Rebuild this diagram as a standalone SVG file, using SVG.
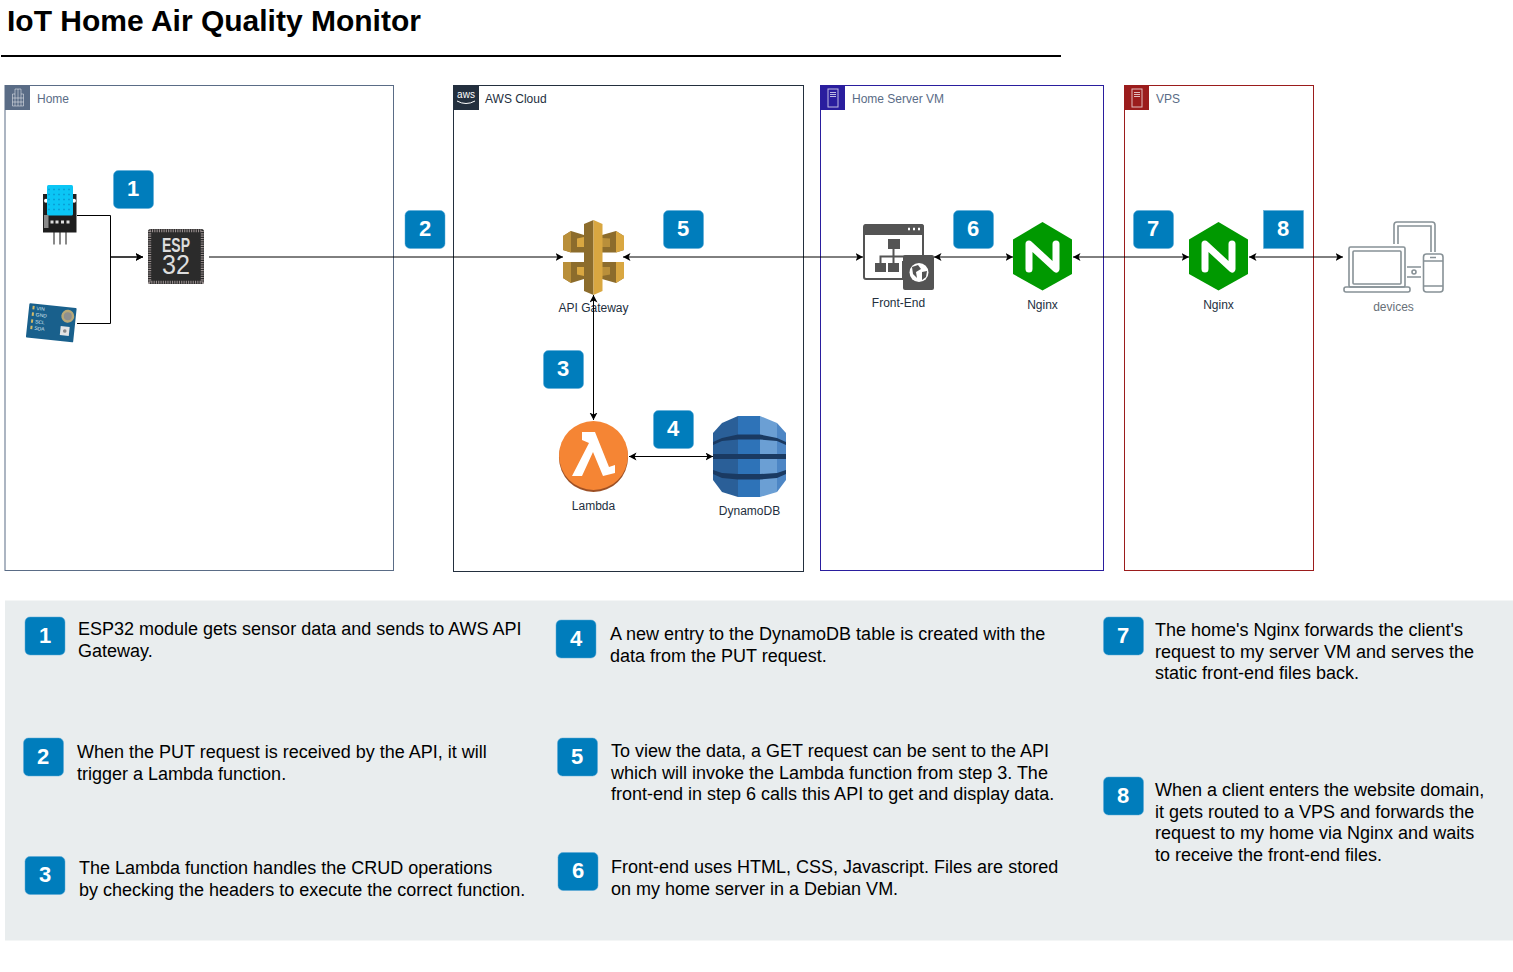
<svg xmlns="http://www.w3.org/2000/svg" width="1513" height="972" viewBox="0 0 1513 972">
<style>
text{font-family:"Liberation Sans",Arial,sans-serif}
.title{font-size:30px;font-weight:bold;fill:#000}
.lbl{font-size:12px;fill:#232F3E;text-anchor:middle}
.clbl{font-size:12px;fill:#5A6C86}
.badge{fill:#007DBC;stroke:#5AA9D6;stroke-width:.5}
.bnum{font-size:22px;font-weight:bold;fill:#fff;text-anchor:middle}
.desc{font-size:18px;fill:#000}
.cont{fill:none;stroke-width:1}
.conn{fill:none;stroke:#000;stroke-width:1}
.both{marker-start:url(#ah);marker-end:url(#ah)}
.end{marker-end:url(#ah)}
.srv{fill:none;stroke:#fff;stroke-opacity:.7;stroke-width:1}
.dev{fill:none;stroke:#879196;stroke-width:1.6}
.gl{fill:#D9A741}
.gm{fill:#B98F3A}
.gd{fill:#8C6C2C}
.band{fill:#1A3A62}
.uvt{font-size:5px;fill:#DDE8EE}
</style>
<defs>
<marker id="ah" markerUnits="userSpaceOnUse" markerWidth="10" markerHeight="10" refX="7.500" refY="4" orient="auto-start-reverse"><path d="M0,0 L7.500,4 L0,8 L1.900,4 Z" fill="#000"/></marker>
<g id="badgeR"><rect width="40" height="38" rx="5" class="badge"/></g>
<g id="ngx">
<path d="M29.500,0 L59,17.500 V52 L29.500,68.500 L0,52 V17.500 Z" fill="#009900"/>
<path d="M16,47 V22 L43,47 V22" fill="none" stroke="#fff" stroke-width="7" stroke-linecap="round" stroke-linejoin="round"/>
</g>
<g id="srvicon">
<rect x="8" y="4" width="10" height="18" class="srv"/>
<path d="M10,7.500 H16 M10,9.500 H16 M10,11.500 H16" class="srv"/>
</g>
</defs>
<rect width="1513" height="972" fill="#fff"/>
<text x="7" y="31" class="title">IoT Home Air Quality Monitor</text>
<path d="M1,56 H1061" stroke="#000" stroke-width="2" fill="none"/>

<rect id="panel" x="5" y="600.500" width="1508" height="340" fill="#E9EDEE"/>

<g id="container-home">
<rect x="5" y="85.500" width="388.500" height="485" class="cont" stroke="#5A6C86"/>
<rect x="5" y="85" width="25" height="25" fill="#5A6C86"/>
<path d="M12.500,106 H23.500 V94 H21 V89 H15 V94 H12.500 Z M15,94 V106 M21,94 V106 M12.500,98 H23.500 M12.500,102 H23.500 M18,89 V106" fill="none" stroke="#fff" stroke-opacity=".6" stroke-width=".8"/>
<text x="37" y="103" class="clbl">Home</text>
</g>
<g id="container-aws">
<rect x="453.500" y="85.500" width="350" height="486" class="cont" stroke="#232F3E"/>
<rect x="453" y="85" width="26" height="25" fill="#232F3E"/>
<text x="466" y="98" font-size="10" fill="#fff" text-anchor="middle">aws</text>
<path d="M457,101 Q466,106 475,101" fill="none" stroke="#fff" stroke-width="1"/>
<text x="485" y="103" font-size="12" fill="#232F3E">AWS Cloud</text>
</g>
<g id="container-homeserver">
<rect x="820.500" y="85.500" width="283" height="485" class="cont" stroke="#2A1E9E"/>
<rect x="820" y="85" width="25" height="25" fill="#2A1E9E"/>
<use href="#srvicon" x="820" y="85"/>
<text x="852" y="103" class="clbl">Home Server VM</text>
</g>
<g id="container-vps">
<rect x="1124.500" y="85.500" width="189" height="485" class="cont" stroke="#9B1C1C"/>
<rect x="1124" y="85" width="25" height="25" fill="#9B1C1C"/>
<use href="#srvicon" x="1124" y="85"/>
<text x="1156" y="103" class="clbl">VPS</text>
</g>

<g id="sensor-dht">
<path d="M54,232 V244.500 M60,232 V244.500 M66,232 V244.500" stroke="#8A8A8A" stroke-width="2" fill="none"/>
<rect x="43" y="194" width="33.500" height="38.500" fill="#1E1E1E"/>
<circle cx="46" cy="200.700" r="2" fill="#fff"/><circle cx="74" cy="200.700" r="2" fill="#fff"/>
<rect x="47" y="185" width="26" height="30.500" rx="1.500" fill="#0BC6F5"/>
<path d="M47,189.500 H73 M47,194.500 H73 M47,199.500 H73 M47,204.500 H73 M47,209.500 H73" stroke="#0A9FD6" stroke-width="1.500" stroke-dasharray="2 3" stroke-dashoffset="-1" fill="none"/>
<path d="M50.500,222 h3 M55.500,222 h3 M61,222 h3 M66.500,222 h3" stroke="#ddd" stroke-width="3" fill="none"/>
<rect x="44" y="215" width="4.500" height="13" fill="#8A8A8A"/>
</g>
<g id="sensor-uv" transform="rotate(6 51 323)">
<rect x="27.500" y="305.500" width="47.500" height="34.500" rx="1" fill="#19608C"/>
<circle cx="67" cy="314.500" r="6.500" fill="#B8A878"/><circle cx="67" cy="314.500" r="4" fill="#8E9090"/>
<rect x="61" y="325" width="9" height="9" fill="#E4E4E4"/><circle cx="65.500" cy="329.500" r="1.800" fill="#8A8A8A"/>
<path d="M31,309.500 h2 M31,316 h2 M31,323 h2 M31,329.500 h2" stroke="#D4BA68" stroke-width="3.500" fill="none"/>
<text x="35" y="311.500" class="uvt">VIN</text>
<text x="35" y="318" class="uvt">GND</text>
<text x="35" y="325" class="uvt">SCL</text>
<text x="35" y="331.500" class="uvt">SDA</text>
</g>
<g id="esp32">
<rect x="148" y="229" width="56" height="55" rx="2.500" fill="#2B2B2B"/>
<rect x="149.700" y="230.700" width="52.600" height="51.600" fill="none" stroke="#9A9090" stroke-width="3" stroke-dasharray="1.100 1.200"/>
<rect x="153" y="234" width="46" height="45" fill="#2B2B2B"/>
<text x="176" y="252" font-size="21" font-weight="bold" fill="#DDD" text-anchor="middle" textLength="28" lengthAdjust="spacingAndGlyphs">ESP</text>
<text x="176" y="274" font-size="28" fill="#DDD" text-anchor="middle" textLength="28" lengthAdjust="spacingAndGlyphs">32</text>
</g>
<g id="api-gateway">
<path d="M563,236 L571,231 L584,235 V252.500 H571 L563,250 Z" class="gd"/>
<path d="M563,236 L571,231 V252.500 L563,250 Z" class="gm"/>
<path d="M577,238.500 L584,237 V247 H577 Z" class="gl"/>
<path d="M563,262 H584 V279 L571,283 L563,278 Z" class="gd"/>
<path d="M563,262 H571 V283 L563,278 Z" class="gm"/>
<path d="M577,267 H584 V276 L577,274.500 Z" class="gl"/>
<path d="M624,236 L616,231 L602,235 V252.500 H616 L624,250 Z" class="gd"/>
<path d="M624,236 L616,231 V252.500 L624,250 Z" class="gl"/>
<path d="M602,238 L610,238.500 V247 H602 Z" class="gm"/>
<path d="M624,262 H602 V279 L616,283 L624,278 Z" class="gd"/>
<path d="M624,262 H616 V283 L624,278 Z" class="gl"/>
<path d="M602,267 H610 V274.500 L602,276 Z" class="gm"/>
<path d="M593.500,220 L584,224 V291 L593.500,295 Z" class="gd"/>
<path d="M593.500,220 L602.500,224 V291 L593.500,295 Z" class="gl"/>
<text x="593.500" y="312" class="lbl">API Gateway</text>
</g>
<g id="lambda">
<circle cx="593.500" cy="457.500" r="34.500" fill="#9D5025"/>
<circle cx="593.500" cy="455.500" r="34.500" fill="#F58534"/>
<path d="M582,432 H595 L609,467 L615,465 V473 L603,476 L593,452 L582,476 H572 L589,443 L582,440 Z" fill="#fff"/>
<text x="593.500" y="510" class="lbl">Lambda</text>
</g>
<g id="dynamodb">
<path d="M713,433 L722,423 L738,416 V497 L722,492 L713,480 Z" fill="#2A5F98"/>
<path d="M738,416 H760 V497 H738 Z" fill="#2E73B8"/>
<path d="M760,416 L777,423 V492 L760,497 Z" fill="#6B9FD4"/>
<path d="M777,423 L786,433 V480 L777,492 Z" fill="#4D86C5"/>
<path class="band" d="M713,442 L722,438 L738,434.500 H760 L777,438 L786,442 V445 L777,441 L760,439.500 H738 L722,441 L713,445 Z"/>
<path class="band" d="M713,454 H786 V459 H713 Z"/>
<path class="band" d="M713,470 L722,473 L738,474 H760 L777,473 L786,470 V474 L777,478 L760,479.500 H738 L722,478 L713,474 Z"/>
<text x="749.500" y="515" class="lbl">DynamoDB</text>
</g>
<g id="frontend">
<path d="M866,225 H921 Q923,225 923,227 V262 H903 V279 H866 Q864,279 864,277 V227 Q864,225 866,225 Z" fill="#fff" stroke="#545454" stroke-width="2"/>
<path d="M864,227 Q864,224 866,224 H921 Q924,224 924,227 V235 H864 Z" fill="#545454"/>
<path d="M908,229 h2 M913,229 h2 M918,229 h2" stroke="#fff" stroke-width="2.500" fill="none"/>
<rect x="888" y="239" width="12" height="10" fill="#545454"/>
<rect x="875" y="263" width="11" height="9" fill="#545454"/>
<rect x="888" y="263" width="11" height="9" fill="#545454"/>
<path d="M893.500,249 V263 M880.500,263 V256.500 H905" stroke="#545454" stroke-width="2" fill="none"/>
<rect x="903" y="255" width="31" height="35" rx="2" fill="#545454"/>
<circle cx="919" cy="272.500" r="9.500" fill="#fff"/>
<path d="M912,267 L918,265 L921,269 L916,272 L917,278 L913,274 Z M922,272 L927,271 L926,277 L922,280 Z" fill="#545454"/>
<text x="898.500" y="307" class="lbl">Front-End</text>
</g>
<g id="nginx-home">
<use href="#ngx" x="1013" y="222"/>
<text x="1042.500" y="309" class="lbl">Nginx</text>
</g>
<g id="nginx-vps">
<use href="#ngx" x="1189" y="222"/>
<text x="1218.500" y="309" class="lbl">Nginx</text>
</g>
<g id="devices">
<path d="M1394,244 V225 Q1394,222 1397,222 H1432 Q1435,222 1435,225 V252 M1398,244 V226 H1431 V252" class="dev"/>
<rect x="1349" y="247" width="56" height="40" rx="1.500" class="dev"/>
<rect x="1353" y="251" width="48" height="33" rx="1" class="dev"/>
<rect x="1344" y="287" width="66" height="5" rx="2" class="dev"/>
<path d="M1407,267 H1421 M1407,277 H1421" class="dev"/>
<circle cx="1414" cy="272" r="2" class="dev"/>
<rect x="1423.500" y="254" width="19.500" height="38" rx="3" class="dev"/>
<path d="M1424,261 H1443 M1424,286 H1443 M1430,257.500 h6" class="dev"/>
<text x="1393.500" y="311" class="lbl" style="fill:#687078">devices</text>
</g>

<g id="connectors">
<path d="M77,215.500 H110.500 V257 H143" class="conn end"/>
<path d="M77,323.500 H110.500 V257 H143" class="conn end"/>
<path d="M209,257 H563" class="conn end"/>
<path d="M623,257 H863" class="conn both"/>
<path d="M934,257 H1013" class="conn both"/>
<path d="M1073,257 H1189" class="conn both"/>
<path d="M1249,257 H1343" class="conn both"/>
<path d="M593.500,295 V420" class="conn both"/>
<path d="M629,456.500 H713" class="conn both"/>
</g>

<g id="badge-top-1"><use href="#badgeR" x="113.500" y="170.500"/><text x="133" y="196" class="bnum">1</text></g>
<g id="badge-top-2"><use href="#badgeR" x="405" y="210.500"/><text x="425" y="236" class="bnum">2</text></g>
<g id="badge-top-5"><use href="#badgeR" x="663.500" y="210.500"/><text x="683" y="236" class="bnum">5</text></g>
<g id="badge-top-3"><use href="#badgeR" x="543.500" y="350.500"/><text x="563" y="376" class="bnum">3</text></g>
<g id="badge-top-4"><use href="#badgeR" x="653.500" y="410.500"/><text x="673" y="436" class="bnum">4</text></g>
<g id="badge-top-6"><use href="#badgeR" x="953.500" y="210.500"/><text x="973" y="236" class="bnum">6</text></g>
<g id="badge-top-7"><use href="#badgeR" x="1133.500" y="210.500"/><text x="1153" y="236" class="bnum">7</text></g>
<g id="badge-top-8"><rect x="1263.500" y="210.500" width="40" height="38" class="badge"/><text x="1283" y="236" class="bnum">8</text></g>

<g id="step-1"><use href="#badgeR" x="25" y="617"/><text x="45" y="642.500" class="bnum">1</text>
<text class="desc"><tspan x="78" y="635">ESP32 module gets sensor data and sends to AWS API</tspan><tspan x="78" y="657">Gateway.</tspan></text></g>
<g id="step-2"><use href="#badgeR" x="23.500" y="738"/><text x="43" y="763.500" class="bnum">2</text>
<text class="desc"><tspan x="77" y="758">When the PUT request is received by the API, it will</tspan><tspan x="77" y="780">trigger a Lambda function.</tspan></text></g>
<g id="step-3"><use href="#badgeR" x="25" y="856.500"/><text x="45" y="882" class="bnum">3</text>
<text class="desc"><tspan x="79" y="874">The Lambda function handles the CRUD operations</tspan><tspan x="79" y="896">by checking the headers to execute the correct function.</tspan></text></g>
<g id="step-4"><use href="#badgeR" x="556" y="620"/><text x="576" y="645.500" class="bnum">4</text>
<text class="desc"><tspan x="610" y="640">A new entry to the DynamoDB table is created with the</tspan><tspan x="610" y="662">data from the PUT request.</tspan></text></g>
<g id="step-5"><use href="#badgeR" x="557.500" y="738"/><text x="577" y="763.500" class="bnum">5</text>
<text class="desc"><tspan x="611" y="757">To view the data, a GET request can be sent to the API</tspan><tspan x="611" y="779">which will invoke the Lambda function from step 3. The</tspan><tspan x="611" y="800">front-end in step 6 calls this API to get and display data.</tspan></text></g>
<g id="step-6"><use href="#badgeR" x="558" y="852.500"/><text x="578" y="878" class="bnum">6</text>
<text class="desc"><tspan x="611" y="873">Front-end uses HTML, CSS, Javascript. Files are stored</tspan><tspan x="611" y="895">on my home server in a Debian VM.</tspan></text></g>
<g id="step-7"><use href="#badgeR" x="1103.500" y="617"/><text x="1123" y="642.500" class="bnum">7</text>
<text class="desc"><tspan x="1155" y="636">The home's Nginx forwards the client's</tspan><tspan x="1155" y="658">request to my server VM and serves the</tspan><tspan x="1155" y="679">static front-end files back.</tspan></text></g>
<g id="step-8"><use href="#badgeR" x="1103.500" y="777"/><text x="1123" y="802.500" class="bnum">8</text>
<text class="desc"><tspan x="1155" y="796">When a client enters the website domain,</tspan><tspan x="1155" y="818">it gets routed to a VPS and forwards the</tspan><tspan x="1155" y="839">request to my home via Nginx and waits</tspan><tspan x="1155" y="861">to receive the front-end files.</tspan></text></g>
</svg>
